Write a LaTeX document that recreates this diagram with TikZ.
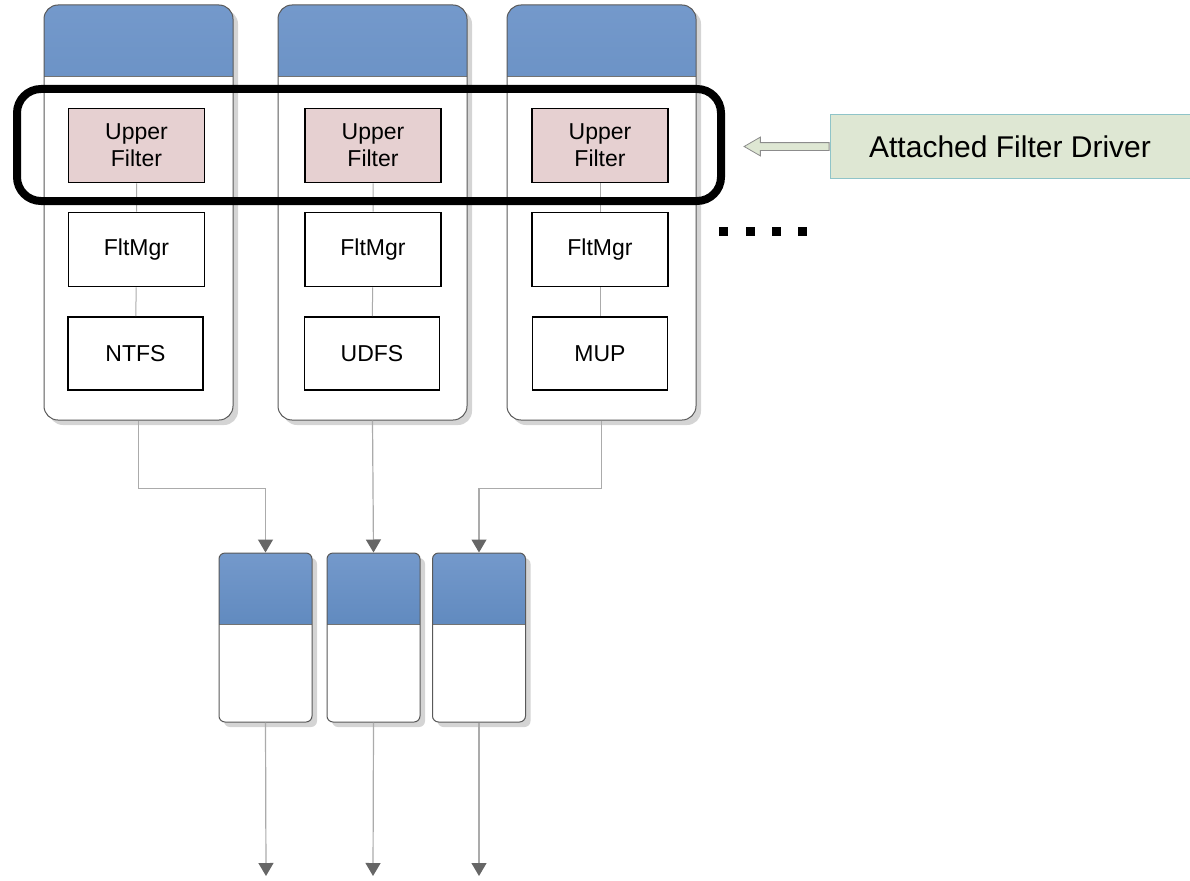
\documentclass[tikz,border=0pt]{standalone}
\usepackage{fontspec}
\setmainfont{Liberation Sans}
\usetikzlibrary{arrows.meta,shadows,shapes.arrows}

\definecolor{hdtop}{HTML}{7499CB}
\definecolor{hdbot}{HTML}{4776AF}
\definecolor{ufill}{HTML}{E6D0D1}
\definecolor{afill}{HTML}{DEE7D3}
\definecolor{aline}{HTML}{8FC4C8}
\definecolor{wirec}{HTML}{ABABAB}
\definecolor{tipc}{HTML}{666666}

\tikzset{
  stack/.style={draw=black!65, fill=white, line width=1pt, rounded corners=#1,
    drop shadow={shadow xshift=5pt, shadow yshift=-5pt, fill=black!17, opacity=1}},
  header/.style={path picture={
    \shade[sharp corners, top color=hdtop, bottom color=hdbot]
      (path picture bounding box.north west) rectangle ([yshift=-#1]path picture bounding box.north east);
    \draw[sharp corners, black!55, line width=1pt]
      ([yshift=-#1]path picture bounding box.north west) -- ([yshift=-#1]path picture bounding box.north east);}},
  layer/.style={draw=black, line width=1.8pt, minimum width=136pt, minimum height=74pt,
    align=center, inner sep=0pt, font=\fontsize{23}{27}\selectfont},
  wire/.style={draw=wirec, line width=1.2pt},
  flow/.style={wire, -{Triangle[width=15pt,length=13pt,color=tipc]}},
  dot/.style={fill=black, minimum size=9pt, inner sep=0pt},
}

\begin{document}
\begin{tikzpicture}[x=1pt,y=-1pt]
  \useasboundingbox (0,0) rectangle (1190,880);

  % file system stacks
  \node[stack=14pt, header=72pt, minimum width=189pt, minimum height=415pt] (fs1) at (138.5,212.5) {};
  \node[stack=14pt, header=72pt, minimum width=189pt, minimum height=415pt] (fs2) at (372.5,212.5) {};
  \node[stack=14pt, header=72pt, minimum width=189pt, minimum height=415pt] (fs3) at (601.5,212.5) {};

  \node[layer, fill=ufill] (uf1) at (136.5,145.5) {Upper\\Filter};
  \node[layer] (fm1) at (136.5,249.5) {FltMgr};
  \node[layer, minimum width=135pt, minimum height=73pt] (fsd1) at (135.5,353.5) {NTFS};

  \node[layer, fill=ufill] (uf2) at (373,145.5) {Upper\\Filter};
  \node[layer] (fm2) at (373,249.5) {FltMgr};
  \node[layer, minimum width=135pt, minimum height=73pt] (fsd2) at (372,353.5) {UDFS};

  \node[layer, fill=ufill] (uf3) at (600,145.5) {Upper\\Filter};
  \node[layer] (fm3) at (600,249.5) {FltMgr};
  \node[layer, minimum width=135pt, minimum height=73pt] (fsd3) at (600,353.5) {MUP};

  \draw[wire, line width=1pt] (uf1) -- (fm1) (fm1) -- (fsd1);
  \draw[wire, line width=1pt] (uf2) -- (fm2) (fm2) -- (fsd2);
  \draw[wire, line width=1pt] (uf3) -- (fm3) (fm3) -- (fsd3);

  % attached filters
  \node[draw, line width=8pt, rounded corners=24pt, inner sep=0pt,
        minimum width=704pt, minimum height=112pt] (grp) at (369,145) {};
  \node[draw=aline, fill=afill, line width=1pt, minimum width=360pt, minimum height=63pt,
        font=\fontsize{30}{34}\selectfont] (afd) at (1010,146.5) {Attached Filter Driver};
  \node[single arrow, shape border rotate=180, anchor=tail, draw=black!45, fill=afill,
        line width=0.8pt, inner sep=3.5pt, minimum height=85pt, single arrow head extend=5.5pt,
        single arrow tip angle=60] (ptr) at (afd.west) {};

  \foreach \i/\x in {1/723,2/750,3/776,4/802}
    \node[dot] (dot\i) at (\x,231.5) {};

  % lower devices
  \node[stack=6pt, header=71pt, minimum width=93pt, minimum height=169pt] (dev1) at (265.5,637.5) {};
  \node[stack=6pt, header=71pt, minimum width=93pt, minimum height=169pt] (dev2) at (373.5,637.5) {};
  \node[stack=6pt, header=71pt, minimum width=93pt, minimum height=169pt] (dev3) at (479,637.5) {};

  \coordinate (out1) at (266,876);
  \coordinate (out2) at (373,876);
  \coordinate (out3) at (479,876);

  \draw[flow] (fs1.south) -- ++(0,68) -| (dev1.north);
  \draw[flow] (fs2.south) -- (dev2.north);
  \draw[flow] (fs3.south) -- ++(0,68) -| (dev3.north);

  \draw[flow] (dev1.south) -- (out1);
  \draw[flow] (dev2.south) -- (out2);
  \draw[flow] (dev3.south) -- (out3);
\end{tikzpicture}
\end{document}
